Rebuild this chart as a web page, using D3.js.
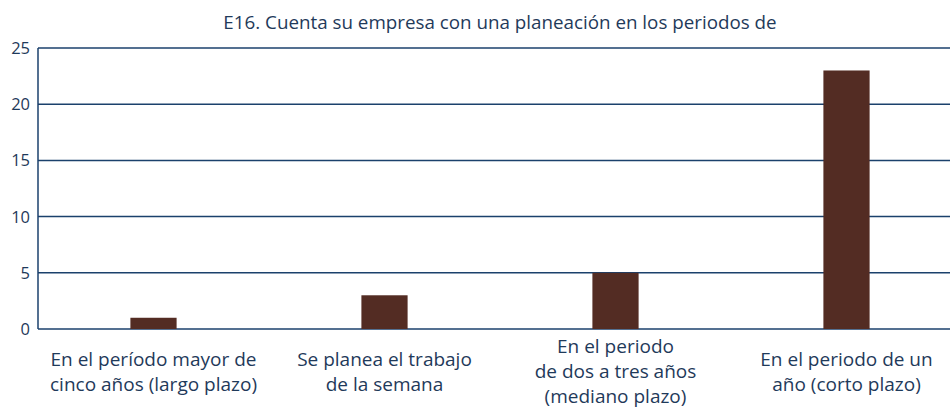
<!DOCTYPE html>
<html>
<head>
<meta charset="utf-8">
<script src="https://cdn.jsdelivr.net/npm/d3@7"></script>
<style>
  body { margin: 0; background: #fff; }
  svg { display: block; font-family: "Open Sans", sans-serif; }
</style>
</head>
<body>
<div id="chart"><svg width="950" height="407"></svg></div>
<script>
// data
const categories = [
  ['En el período mayor de', 'cinco años (largo plazo)'],
  ['Se planea el trabajo', 'de la semana'],
  ['En el periodo', 'de dos a tres años', '(mediano plazo)'],
  ['En el periodo de un', 'año (corto plazo)']
];
const values = [1, 3, 5, 23];
const yTicks = [0, 5, 10, 15, 20, 25];
const title = 'E16. Cuenta su empresa con una planeación en los periodos de';

const svg = d3.select('#chart svg');
const TEXT = '#1f3a5a';
const LINE = '#1b416c';

const PLOT_LEFT = 38, PLOT_RIGHT = 962, PLOT_TOP = 48, PLOT_BOTTOM = 329;

// scales
const scaleX = d3.scaleBand()
  .domain(d3.range(categories.length))
  .range([PLOT_LEFT, PLOT_RIGHT]);

const scaleY = d3.scaleLinear()
  .domain([0, 25])
  .range([PLOT_BOTTOM, PLOT_TOP]);

// title
svg.append('text')
  .text(title)
  .attr('x', 500)
  .attr('y', 29)
  .style('fill', TEXT)
  .style('font-size', '18.8px')
  .style('text-anchor', 'middle');

// grid
svg.append('g')
  .selectAll('line')
  .data(yTicks)
  .join('line')
  .attr('x1', PLOT_LEFT)
  .attr('x2', 950)
  .attr('y1', d => scaleY(d))
  .attr('y2', d => scaleY(d))
  .style('stroke', LINE)
  .style('stroke-width', 1.5);

svg.append('line')
  .attr('x1', PLOT_LEFT)
  .attr('x2', PLOT_LEFT)
  .attr('y1', PLOT_TOP)
  .attr('y2', PLOT_BOTTOM)
  .style('stroke', LINE)
  .style('stroke-width', 1.5);

// y tick labels
svg.append('g')
  .selectAll('text')
  .data(yTicks)
  .join('text')
  .text(d => d)
  .attr('x', 30)
  .attr('y', d => scaleY(d) + 6)
  .style('fill', TEXT)
  .style('font-size', '16.5px')
  .style('text-anchor', 'end');

// bars
const barW = scaleX.bandwidth() * 0.2;
svg.append('g')
  .selectAll('rect')
  .data(values)
  .join('rect')
  .attr('x', (d, i) => scaleX(i) + scaleX.bandwidth() / 2 - barW / 2)
  .attr('y', d => scaleY(d))
  .attr('width', barW)
  .attr('height', d => scaleY(0) - scaleY(d))
  .style('fill', '#532c23');

// category labels
const labelG = svg.append('g');
categories.forEach((lines, i) => {
  const t = labelG.append('text')
    .attr('x', scaleX(i) + scaleX.bandwidth() / 2)
    .attr('y', 366 - (lines.length - 2) * 13.5)
    .style('fill', TEXT)
    .style('font-size', '19px')
    .style('text-anchor', 'middle');
  t.selectAll('tspan')
    .data(lines)
    .join('tspan')
    .text(d => d)
    .attr('x', scaleX(i) + scaleX.bandwidth() / 2)
    .attr('dy', (d, j) => j === 0 ? 0 : 25);
});
</script>
</body>
</html>
